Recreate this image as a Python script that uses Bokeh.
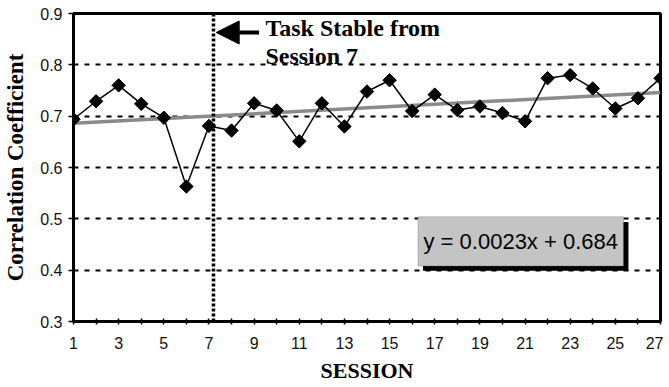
import math
from bokeh.plotting import figure
from bokeh.models import (FixedTicker, Span, Arrow, NormalHead, Label,
                          BoxAnnotation, ColumnDataSource)
from bokeh.embed import file_html
from bokeh.resources import INLINE

# ---- data ----
sessions = list(range(1, 28))
correlation = [0.694, 0.729, 0.760, 0.724, 0.697, 0.563, 0.681, 0.672, 0.725,
               0.711, 0.651, 0.725, 0.680, 0.748, 0.770, 0.710, 0.742, 0.712,
               0.719, 0.706, 0.690, 0.774, 0.780, 0.754, 0.715, 0.735, 0.774]
trend_slope = 0.0023
trend_intercept = 0.684
stable_session = 7.2
x_ticks = list(range(1, 28))
x_tick_labels = [str(i) if i % 2 == 1 else "" for i in x_ticks]
y_ticks = [0.3, 0.4, 0.5, 0.6, 0.7, 0.8, 0.9]
y_tick_labels = ["0.3", "0.4", "0.5", "0.6", "0.7", "0.8", "0.9"]
equation_text = "y = 0.0023x + 0.684"
note_lines = ["Task Stable from", "Session 7"]

trend_x = [sessions[0], sessions[-1]]
trend_y = [trend_slope * x + trend_intercept for x in trend_x]

SERIF = "Liberation Serif"
SANS = "Liberation Sans"

p = figure(width=663, height=385, x_range=(1, 27), y_range=(0.3, 0.9),
           output_backend="svg", toolbar_location=None,
           min_border_left=72, min_border_right=3, min_border_top=13,
           min_border_bottom=63)
p.background_fill_color = "white"
p.border_fill_color = "white"
p.outline_line_color = "black"
p.outline_line_width = 3

# grid
p.xgrid.visible = False
p.ygrid.ticker = FixedTicker(ticks=[0.4, 0.5, 0.6, 0.7, 0.8])
p.ygrid.grid_line_color = "black"
p.ygrid.grid_line_width = 2
p.ygrid.grid_line_dash = "5 6"

# axes
p.xaxis.ticker = FixedTicker(ticks=x_ticks)
p.xaxis.major_label_overrides = {t: l for t, l in zip(x_ticks, x_tick_labels)}
p.yaxis.ticker = FixedTicker(ticks=y_ticks)
p.yaxis.major_label_overrides = {t: l for t, l in zip(y_ticks, y_tick_labels)}
p.xaxis.minor_tick_line_color = None
p.yaxis.minor_tick_line_color = None
for ax in (p.xaxis, p.yaxis):
    ax.axis_line_width = 3
    ax.axis_line_color = "black"
    ax.major_tick_line_color = "black"
    ax.major_tick_line_width = 1.5
    ax.major_label_text_font = SANS
    ax.major_label_text_font_size = "16px"
    ax.major_label_text_color = "#111111"
    ax.axis_label_text_font = SERIF
    ax.axis_label_text_font_style = "bold"
    ax.axis_label_text_font_size = "22px"
    ax.axis_label_text_color = "black"
p.yaxis.axis_label_text_font_size = "23px"
p.xaxis.major_tick_in = 3
p.xaxis.major_tick_out = 3
p.xaxis.major_label_standoff = 12
p.xaxis.axis_label_standoff = 6
p.yaxis.major_tick_in = 0
p.yaxis.major_tick_out = 5
p.yaxis.major_label_standoff = 6
p.yaxis.axis_label_standoff = 9
p.xaxis.axis_label = "SESSION"
p.yaxis.axis_label = "Correlation Coefficient"

# vertical dotted line
p.add_layout(Span(location=stable_session, dimension="height",
                  line_color="black", line_width=3.5, line_dash="3 2"))

# trend line
p.line(trend_x, trend_y, line_color="#8a8a8a", line_width=3.5)

# data line and diamonds
src = ColumnDataSource(dict(x=sessions, y=correlation))
p.line("x", "y", source=src, line_color="black", line_width=1.5)
p.scatter("x", "y", source=src, marker="square", size=9.5, angle=math.pi / 4,
          fill_color="black", line_color="black")

# arrow and note
p.add_layout(Arrow(end=NormalHead(size=23, fill_color="black", line_color="black"),
                   x_start=9.22, y_start=0.863, x_end=7.32, y_end=0.863,
                   line_color="black", line_width=4))
for i, line in enumerate(note_lines):
    p.add_layout(Label(x=9.5, y=0.871 - i * 0.053, text=line,
                       text_font=SERIF, text_font_style="bold",
                       text_font_size="24px", text_baseline="middle",
                       text_color="black"))

# equation box with shadow
p.add_layout(BoxAnnotation(left=16.48, right=25.58, bottom=0.399, top=0.494,
                           fill_color="black", fill_alpha=1, line_color=None))
p.add_layout(BoxAnnotation(left=16.26, right=25.36, bottom=0.408, top=0.504,
                           fill_color="#c4c4c4", fill_alpha=1,
                           line_color="#555555", line_width=1))
p.add_layout(Label(x=20.81, y=0.456, text=equation_text, text_font=SANS,
                   text_font_size="22px", text_align="center",
                   text_baseline="middle", text_color="black"))

open("out.html", "w").write(file_html(p, INLINE))
